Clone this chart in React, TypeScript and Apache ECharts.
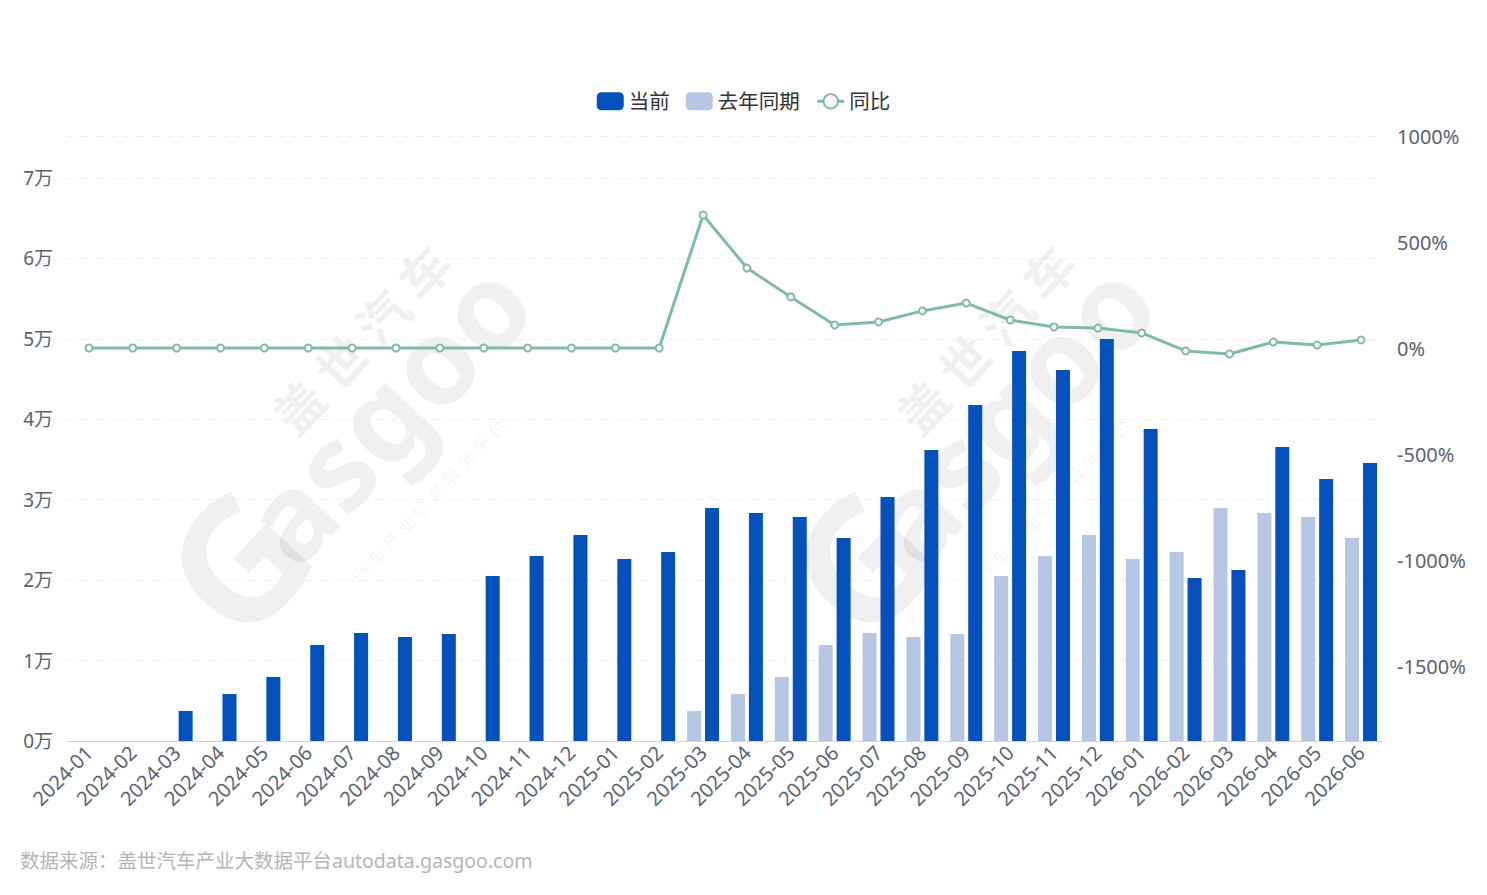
import { useEffect, useRef } from 'react';
import * as echarts from 'echarts';

const months = [
  '2024-01', '2024-02', '2024-03', '2024-04', '2024-05', '2024-06',
  '2024-07', '2024-08', '2024-09', '2024-10', '2024-11', '2024-12',
  '2025-01', '2025-02', '2025-03', '2025-04', '2025-05', '2025-06',
  '2025-07', '2025-08', '2025-09', '2025-10', '2025-11', '2025-12',
  '2026-01', '2026-02', '2026-03', '2026-04', '2026-05', '2026-06'
];

const current = [
  0, 0, 3730, 5840, 7960, 11940,
  13430, 12930, 13300, 20510, 23000, 25610,
  22630, 23500, 28970, 28350, 27850, 25240,
  30340, 36180, 41780, 48490, 46130, 49980,
  38790, 20270, 21260, 36550, 32580, 34560
];

const lastYear = [
  0, 0, 0, 0, 0, 0,
  0, 0, 0, 0, 0, 0,
  0, 0, 3730, 5840, 7960, 11940,
  13430, 12930, 13300, 20510, 23000, 25610,
  22630, 23500, 28970, 28350, 27850, 25240
];

const yoy = [
  0, 0, 0, 0, 0, 0,
  0, 0, 0, 0, 0, 0,
  0, 0, 627, 377, 241, 108,
  123, 175, 212, 132, 99, 94,
  71, -14, -28, 28, 14, 38
];

const FONT = "'Noto Sans', 'Noto Sans CJK SC', sans-serif";
const LABEL = '#5b6270';
const GREEN = '#7fbda2';

function watermark(dx: number) {
  const c = 'rgba(0,0,0,0.06)';
  return [
    {
      type: 'text', x: 360 + dx, y: 338, rotation: 0.82, z: -10,
      style: { text: '盖 世 汽 车', font: `bold 50px 'Noto Sans CJK SC'`, fill: c, align: 'center', verticalAlign: 'middle' }
    },
    {
      type: 'text', x: 385 + dx, y: 410, rotation: 0.82, z: -10,
      style: { text: 'asgoo', font: `bold 120px ${FONT}`, fill: c, align: 'center', verticalAlign: 'middle' }
    },
    {
      type: 'text', x: 235 + dx, y: 560, rotation: 0.82, z: -10,
      style: { text: 'G', font: `bold 170px ${FONT}`, fill: c, align: 'center', verticalAlign: 'middle' }
    },
    {
      type: 'text', x: 428 + dx, y: 500, rotation: 0.82, z: -10,
      style: { text: '汽 车 产 业 信 息 服 务 平 台', font: `18px 'Noto Sans CJK SC'`, fill: c, align: 'center', verticalAlign: 'middle' }
    }
  ];
}

export default function App() {
  const ref = useRef<HTMLDivElement>(null);

  useEffect(() => {
    if (!ref.current) return;
    const chart = echarts.init(ref.current, null, { renderer: 'svg' });

    chart.setOption({
      animation: false,
      textStyle: { fontFamily: FONT },
      legend: {
        top: 86,
        left: 'center',
        itemWidth: 27,
        itemHeight: 18,
        itemGap: 16,
        textStyle: { fontSize: 20.5, color: '#333' },
        data: [
          { name: '当前', icon: 'roundRect' },
          { name: '去年同期', icon: 'roundRect' },
          { name: '同比', lineStyle: { width: 3 }, itemStyle: { borderWidth: 3 } }
        ]
      },
      grid: [
        { left: 67, right: 104, top: 136, bottom: 154 },
        { left: 67, right: 104, top: 136, bottom: 229 }
      ],
      xAxis: [
        {
          type: 'category',
          gridIndex: 0,
          data: months,
          axisLine: { lineStyle: { color: '#cfd3dc' } },
          axisTick: { show: false },
          axisLabel: { rotate: 45, fontSize: 20, color: LABEL, margin: 8, interval: 0 }
        },
        {
          type: 'category',
          gridIndex: 1,
          data: months,
          show: false
        }
      ],
      yAxis: [
        {
          type: 'value',
          gridIndex: 0,
          min: 0,
          max: 75220,
          interval: 10000,
          axisLine: { show: false },
          axisTick: { show: false },
          axisLabel: {
            fontSize: 19,
            color: LABEL,
            margin: 14,
            showMaxLabel: false,
            formatter: (v: number) => `${v / 10000}万`
          },
          splitLine: { lineStyle: { color: '#f0f0f0', type: [8, 6] } }
        },
        {
          type: 'value',
          gridIndex: 1,
          position: 'right',
          min: -1500,
          max: 1000,
          interval: 500,
          axisLine: { show: false },
          axisTick: { show: false },
          axisLabel: { fontSize: 20, color: LABEL, margin: 14, formatter: (v: number) => `${v}%` },
          splitLine: { show: false }
        }
      ],
      series: [
        {
          name: '去年同期',
          type: 'bar',
          xAxisIndex: 0,
          yAxisIndex: 0,
          data: lastYear,
          barWidth: 14,
          barGap: '28%',
          itemStyle: { color: '#b5c7e2' }
        },
        {
          name: '当前',
          type: 'bar',
          xAxisIndex: 0,
          yAxisIndex: 0,
          data: current,
          barWidth: 14,
          barGap: '28%',
          itemStyle: { color: '#0451bb' }
        },
        {
          name: '同比',
          type: 'line',
          xAxisIndex: 1,
          yAxisIndex: 1,
          data: yoy,
          symbol: 'emptyCircle',
          symbolSize: 7,
          lineStyle: { color: GREEN, width: 3 },
          itemStyle: { color: GREEN, borderWidth: 2 },
          z: 5
        }
      ],
      graphic: [
        ...watermark(0),
        ...watermark(624),
        {
          type: 'text',
          left: 20,
          top: 851,
          style: { text: '数据来源：盖世汽车产业大数据平台autodata.gasgoo.com', font: `19.5px ${FONT}`, fill: '#b5b5b5' }
        }
      ]
    });

    return () => chart.dispose();
  }, []);

  return (
    <div
      ref={ref}
      style={{ position: 'fixed', left: 0, top: 0, width: '100vw', height: '100vh', background: '#fff' }}
    />
  );
}
